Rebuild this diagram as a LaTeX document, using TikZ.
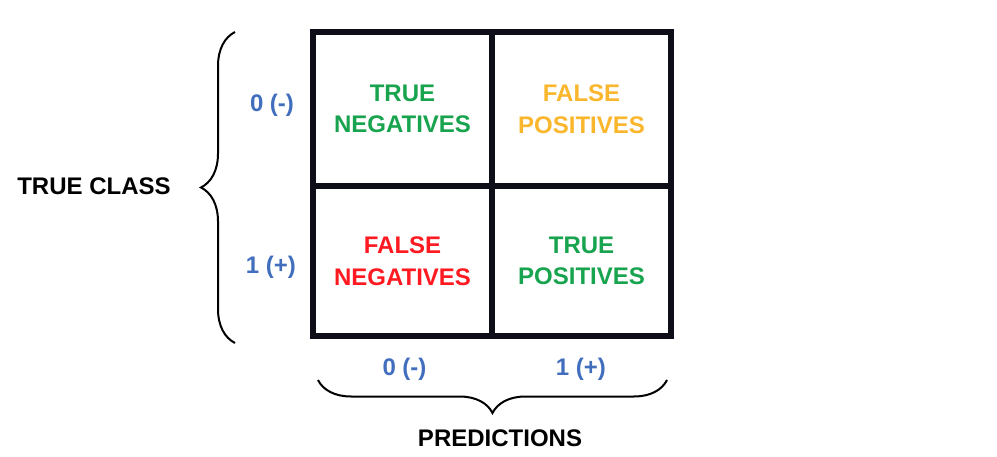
\documentclass[tikz,border=0pt]{standalone}
\usepackage{fontspec}
\setmainfont{Liberation Sans}
\usetikzlibrary{decorations.pathreplacing}
\definecolor{gridc}{RGB}{14,14,24}
\definecolor{tgreen}{RGB}{24,164,78}
\definecolor{forange}{RGB}{250,182,44}
\definecolor{fred}{RGB}{255,26,34}
\definecolor{lblue}{RGB}{66,110,190}
\begin{document}
\begin{tikzpicture}[x=1pt,y=-1pt,
  txt/.style={font=\fontsize{24}{31.6}\selectfont\bfseries},
  cell/.style={txt,draw=gridc,line width=6pt,align=center,inner sep=0pt,
    minimum width=179pt},
  axlab/.style={txt,text=lblue,anchor=base,inner sep=0pt},
  title/.style={txt,text=black,anchor=base,inner sep=0pt},
  bracestyle/.style={draw=black,line width=2pt,
    decorate,decoration={brace,amplitude=#1}}]
\useasboundingbox[fill=white] (0,0) rectangle (997,457);
% cells
\node[cell,minimum height=154pt,text=tgreen] (tn) at (402.5,109) {TRUE\\NEGATIVES};
\node[cell,minimum height=154pt,text=forange] (fp) at (581.5,109) {FALSE\\POSITIVES};
\node[cell,minimum height=150pt,text=fred] (fn) at (402.5,261) {FALSE\\NEGATIVES};
\node[cell,minimum height=150pt,text=tgreen] (tp) at (581.5,261) {TRUE\\POSITIVES};
% axis labels
\node[axlab] (r0) at (272,112) {0 (-)};
\node[axlab] (r1) at (271,274) {1 (+)};
\node[axlab] (c0) at (404.5,375) {0 (-)};
\node[axlab] (c1) at (581,375) {1 (+)};
% titles
\node[title] (trueclass) at (94,195) {TRUE CLASS};
\node[title] (pred) at (500,446) {PREDICTIONS};
% braces
\coordinate (lb) at (235,343);
\coordinate (lt) at (235,32);
\coordinate (br) at (667,380);
\coordinate (bl) at (318,380);
\draw[bracestyle=34pt] (lb) -- (lt);
\draw[bracestyle=33pt] (br) -- (bl);
\end{tikzpicture}
\end{document}
